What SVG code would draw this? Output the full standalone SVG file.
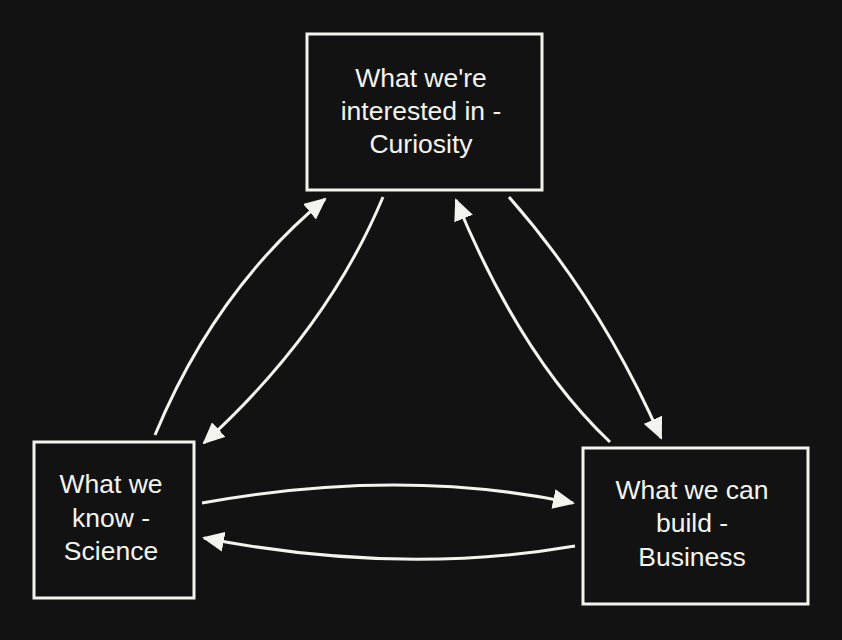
<svg xmlns="http://www.w3.org/2000/svg" width="842" height="640" viewBox="0 0 842 640">
<defs>
<style>
.box{fill:#121212;stroke:#f4f4ee;stroke-width:3}
.lbl{font-family:"Liberation Sans",Arial,sans-serif;font-size:26.5px;fill:#f4f4ee;text-anchor:middle}
.edge{fill:none;stroke:#f4f4ee;stroke-width:3;marker-end:url(#arrow)}
</style>
<marker id="arrow" markerUnits="userSpaceOnUse" markerWidth="22" markerHeight="20" viewBox="0 0 22 20" refX="20" refY="10" orient="auto">
<path d="M0,0 L22,10 L0,20 Z" fill="#f4f4ee"/>
</marker>
</defs>
<rect width="842" height="640" fill="#121212"/>
<g id="connectors">
<path class="edge" d="M155,435 Q215,290 325,199"/>
<path class="edge" d="M383,197 Q327,331 204,443"/>
<path class="edge" d="M610,442 Q521,358 456,200"/>
<path class="edge" d="M509,197 Q600,300 661,438"/>
<path class="edge" d="M202,503 Q400,467 573,503"/>
<path class="edge" d="M575,546 Q400,576 204,538"/>
</g>
<g id="curiosity">
<rect class="box" x="307" y="34" width="235" height="156"/>
<text class="lbl" x="421" y="87">What we're</text>
<text class="lbl" x="421" y="120">interested in -</text>
<text class="lbl" x="421" y="153">Curiosity</text>
</g>
<g id="science">
<rect class="box" x="34" y="442" width="160" height="156"/>
<text class="lbl" x="111" y="493">What we</text>
<text class="lbl" x="111" y="527">know -</text>
<text class="lbl" x="111" y="560">Science</text>
</g>
<g id="business">
<rect class="box" x="583" y="448" width="225" height="156"/>
<text class="lbl" x="692" y="499">What we can</text>
<text class="lbl" x="692" y="532">build -</text>
<text class="lbl" x="692" y="566">Business</text>
</g>
</svg>
